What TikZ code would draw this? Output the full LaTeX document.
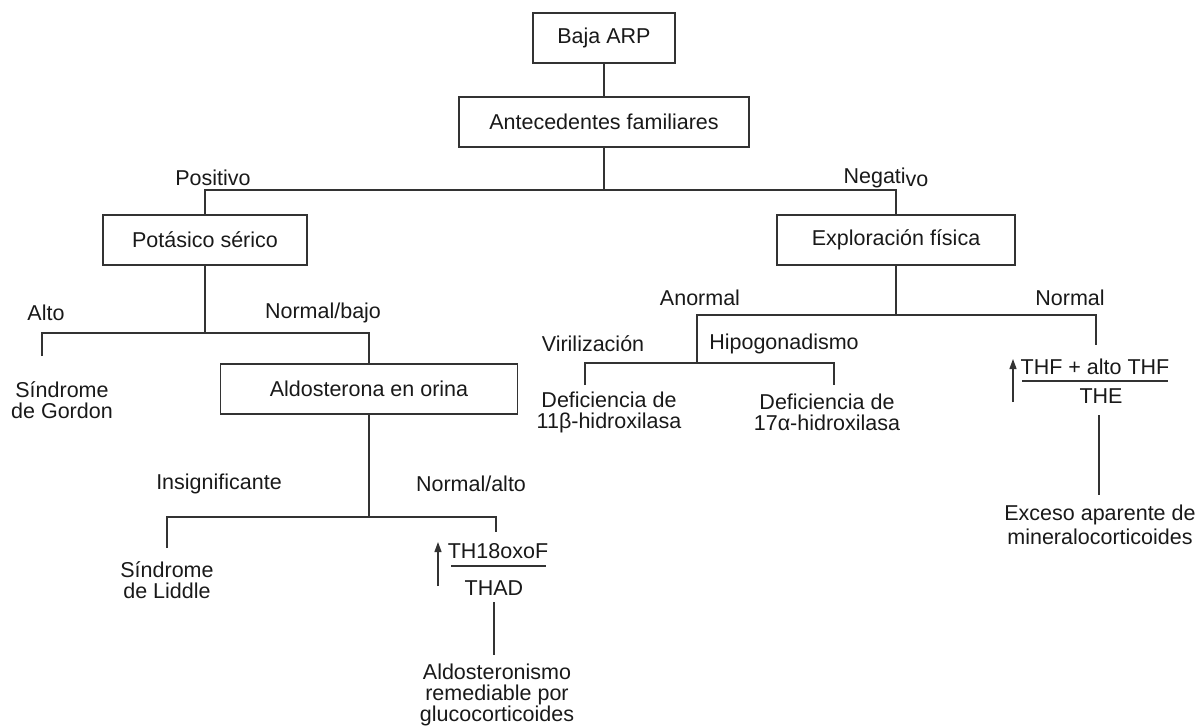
\documentclass[tikz,border=0pt]{standalone}
\usepackage{fontspec}
\setmainfont{Liberation Sans}
\usetikzlibrary{arrows.meta}
\begin{document}
\begin{tikzpicture}[x=1pt,y=-1pt,
  every node/.style={font=\fontsize{21.5}{21}\selectfont, text=black!90},
  box/.style={draw=black!80, line width=1.2pt, minimum height=50pt, inner sep=0pt},
  lbl/.style={inner sep=0pt, align=center},
  ln/.style={draw=black!80, line width=1.2pt},
  up/.style={ln, -{Triangle[length=10pt,width=7pt]}}]
\useasboundingbox (0,0) rectangle (1195,726);
% boxes
\node[box, minimum width=142pt] (baja) at (604,38) {Baja ARP};
\node[box, minimum width=290pt] (ante) at (604,122) {Antecedentes familiares};
\node[box, minimum width=204pt] (pot) at (205,240) {Potásico sérico};
\node[box, minimum width=238pt] (expl) at (896,240) {Exploración física};
\node[box, minimum width=297pt] (aldo) at (369,389) {Aldosterona en orina};
% labels
\node[lbl] (pos) at (213,178) {Positivo};
\node[lbl] (neg) at (886,178) {Negati\raisebox{-3pt}{vo}};
\node[lbl] (alto) at (46,313) {Alto};
\node[lbl] (nb) at (323,313) {Normal/bajo};
\node[lbl] (gordon) at (62,400) {Síndrome\\de Gordon};
\node[lbl] (insig) at (219,484) {Insignificante};
\node[lbl] (na) at (471,484) {Normal/alto};
\node[lbl] (liddle) at (167,580) {Síndrome\\de Liddle};
\node[lbl] (num1) at (498,551) {TH18oxoF};
\node[lbl] (den1) at (494,588) {THAD};
\node[lbl, font=\fontsize{21.5}{21}\selectfont] (arg) at (497,695) {Aldosteronismo\\remediable por\\glucocorticoides};
\node[lbl] (anor) at (700,298) {Anormal};
\node[lbl] (norm) at (1070,298) {Normal};
\node[lbl] (vir) at (593,344) {Virilización};
\node[lbl] (hipo) at (784,344) {Hipogonadismo};
\node[lbl] (d11) at (609,412) {Deficiencia de\\11β-hidroxilasa};
\node[lbl] (d17) at (827,412) {Deficiencia de\\17α-hidroxilasa};
\node[lbl] (num2) at (1095,367) {THF + alto THF};
\node[lbl] (den2) at (1101,396) {THE};
\node[lbl, font=\fontsize{21.5}{24}\selectfont] (ame) at (1100,525) {Exceso aparente de\\mineralocorticoides};
% junctions and free ends
\coordinate (j1) at (604,190);
\coordinate (j2) at (205,333);
\coordinate (g1) at (42,356);
\coordinate (j3) at (369,517);
\coordinate (l1) at (167,548);
\coordinate (a1) at (496,532);
\coordinate (ar1a) at (438,586);
\coordinate (ar1b) at (438,542);
\coordinate (f1a) at (451,566);
\coordinate (f1b) at (546,566);
\coordinate (t1a) at (494,602);
\coordinate (t1b) at (494,655);
\coordinate (j4) at (896,315);
\coordinate (j5) at (697,363);
\coordinate (n1) at (1096,345);
\coordinate (v1) at (585,385);
\coordinate (h1) at (834,385);
\coordinate (ar2a) at (1013,402);
\coordinate (ar2b) at (1013,359);
\coordinate (f2a) at (1022,381);
\coordinate (f2b) at (1168,381);
\coordinate (t2a) at (1099,415);
\coordinate (t2b) at (1099,495);
% connectors
\draw[ln] (baja) -- (ante);
\draw[ln] (ante) -- (j1);
\draw[ln] (pot) |- (j1) -| (expl);
\draw[ln] (pot) -- (j2);
\draw[ln] (g1) |- (j2) -| (aldo);
\draw[ln] (aldo) -- (j3);
\draw[ln] (l1) |- (j3) -| (a1);
\draw[up] (ar1a) -- (ar1b);
\draw[ln] (f1a) -- (f1b);
\draw[ln] (t1a) -- (t1b);
\draw[ln] (expl) -- (j4);
\draw[ln] (j5) |- (j4) -| (n1);
\draw[ln] (v1) |- (j5) -| (h1);
\draw[up] (ar2a) -- (ar2b);
\draw[ln] (f2a) -- (f2b);
\draw[ln] (t2a) -- (t2b);
\end{tikzpicture}
\end{document}
